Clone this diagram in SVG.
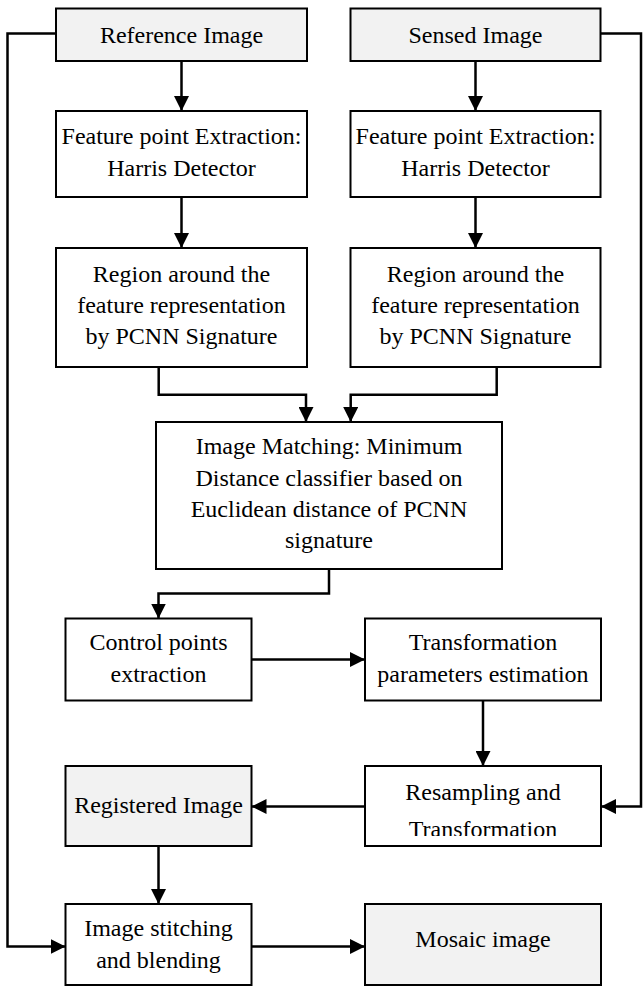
<svg xmlns="http://www.w3.org/2000/svg" width="643" height="986" viewBox="0 0 643 986">
<style>
.box{fill:#fff;stroke:#000;stroke-width:2}
.gray{fill:#f2f2f2}
.lbl text{font-size:24px;fill:#000;text-anchor:middle}
.conn path{fill:none;stroke:#000;stroke-width:2.5;marker-end:url(#arr)}
</style>
<defs>
<marker id="arr" viewBox="0 0 15 15" refX="15" refY="7.5" markerWidth="15" markerHeight="15" markerUnits="userSpaceOnUse" orient="auto">
<path d="M0,0 L15,7.5 L0,15 Z" fill="#000"/>
</marker>
<clipPath id="clipRes"><rect x="365" y="766" width="236" height="70"/></clipPath>
</defs>
<rect width="643" height="986" fill="#fff"/>
<g class="conn" id="connectors">
<path d="M56,33.5 H7.5 V946.5 H65.5"/>
<path d="M600.5,33.5 H641 V806.5 H601"/>
<path d="M181.5,61 V111"/>
<path d="M475.5,61 V111"/>
<path d="M181.5,197 V248"/>
<path d="M475.5,197 V248"/>
<path d="M158.7,367 V394.7 H306 V422"/>
<path d="M496.7,367 V394.7 H350.7 V422"/>
<path d="M329,569 V593.5 H158.5 V618.5"/>
<path d="M251.5,659.5 H365"/>
<path d="M483,700.5 V766"/>
<path d="M365,806.5 H251.5"/>
<path d="M158.5,846 V904"/>
<path d="M251.5,946.5 H365"/>
</g>
<g class="lbl" font-family="'Liberation Serif', 'Times New Roman', 'DejaVu Serif', serif">
<g id="ref"><rect class="box gray" x="56" y="8.5" width="251" height="52.5"/><text x="181.5" y="43">Reference Image</text></g>
<g id="sensed"><rect class="box gray" x="350.5" y="8.5" width="250" height="52.5"/><text x="475.5" y="43">Sensed Image</text></g>
<g id="feat1"><rect class="box" x="56" y="111" width="251" height="86"/><text x="181.5" y="144">Feature point Extraction:</text><text x="181.5" y="176">Harris Detector</text></g>
<g id="feat2"><rect class="box" x="350.5" y="111" width="250" height="86"/><text x="475.5" y="144">Feature point Extraction:</text><text x="475.5" y="176">Harris Detector</text></g>
<g id="reg1"><rect class="box" x="56" y="248" width="251" height="119"/><text x="181.5" y="282">Region around the</text><text x="181.5" y="313">feature representation</text><text x="181.5" y="344">by PCNN Signature</text></g>
<g id="reg2"><rect class="box" x="350.5" y="248" width="250" height="119"/><text x="475.5" y="282">Region around the</text><text x="475.5" y="313">feature representation</text><text x="475.5" y="344">by PCNN Signature</text></g>
<g id="match"><rect class="box" x="156" y="422" width="346" height="147"/><text x="329" y="454">Image Matching: Minimum</text><text x="329" y="486">Distance classifier based on</text><text x="329" y="517">Euclidean distance of PCNN</text><text x="329" y="548">signature</text></g>
<g id="ctrl"><rect class="box" x="65.5" y="618.5" width="186" height="82"/><text x="158.5" y="650">Control points</text><text x="158.5" y="682">extraction</text></g>
<g id="trans"><rect class="box" x="365" y="618.5" width="236" height="82"/><text x="483" y="650">Transformation</text><text x="483" y="682">parameters estimation</text></g>
<g id="registered"><rect class="box gray" x="65.5" y="766" width="186" height="80"/><text x="158.5" y="813">Registered Image</text></g>
<g id="resampling"><rect class="box" x="365" y="766" width="236" height="80"/><g clip-path="url(#clipRes)"><text x="483" y="800">Resampling and</text><text x="483" y="837">Transformation</text></g></g>
<g id="stitch"><rect class="box" x="65.5" y="904" width="186" height="81"/><text x="158.5" y="936">Image stitching</text><text x="158.5" y="968">and blending</text></g>
<g id="mosaic"><rect class="box gray" x="365" y="904" width="236" height="81"/><text x="483" y="947">Mosaic image</text></g>
</g>
</svg>
